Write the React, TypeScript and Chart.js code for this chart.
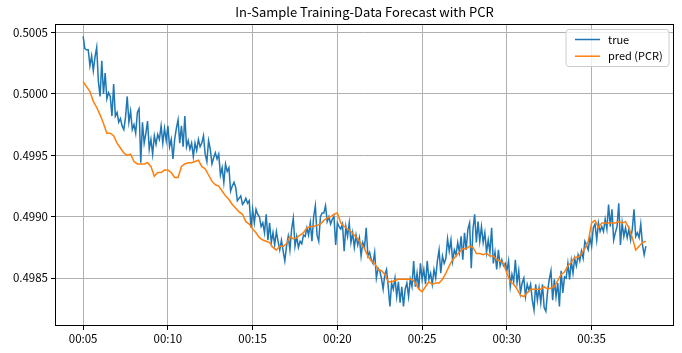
import { useEffect, useRef } from "react";
import { Chart, registerables } from "chart.js";

Chart.register(...registerables);

// ---- data ----
const titleText = "In-Sample Training-Data Forecast with PCR";
const seriesLabels = ["true", "pred (PCR)"];
const startMinute = 5; // 00:05 is the first sample
const trueStepMinutes = 0.1; // 6 s between "true" samples
const predStepMinutes = 0.2; // 12 s between "pred" samples
const xTickMinutes = [0, 5, 10, 15, 20, 25, 30];
const yTickValues = [0.4985, 0.499, 0.4995, 0.5, 0.5005];

const trueValues = [
  0.50047, 0.50037, 0.50036, 0.50036, 0.50023, 0.50031, 0.50019, 0.5003, 0.50038, 0.5001,
  0.49998, 0.50027, 0.5, 0.50017, 0.49996, 0.50001, 0.49998, 0.49982, 0.50008, 0.49982,
  0.49985, 0.49977, 0.4998, 0.49974, 0.49971, 0.49981, 0.49998, 0.49977, 0.49986, 0.49971,
  0.49975, 0.49968, 0.49985, 0.49988, 0.49944, 0.49977, 0.4996, 0.49968, 0.49978, 0.49955,
  0.49963, 0.49951, 0.49966, 0.49959, 0.49967, 0.49963, 0.49974, 0.4996, 0.49972, 0.49962,
  0.49974, 0.49957, 0.49963, 0.49947, 0.49963, 0.49972, 0.49979, 0.4996, 0.49974, 0.49957,
  0.49982, 0.49957, 0.49962, 0.49955, 0.4996, 0.49949, 0.4996, 0.49954, 0.49963, 0.49957,
  0.4996, 0.49966, 0.49951, 0.49945, 0.49962, 0.49955, 0.49943, 0.49948, 0.49952, 0.49947,
  0.49951, 0.49934, 0.4994, 0.49928, 0.49943, 0.49937, 0.4994, 0.49921, 0.49925, 0.49928,
  0.49924, 0.49913, 0.49915, 0.49917, 0.4991, 0.49912, 0.49915, 0.49911, 0.49913, 0.49891,
  0.49906, 0.49895, 0.49906, 0.49902, 0.499, 0.49892, 0.49895, 0.49887, 0.49902, 0.49881,
  0.49895, 0.49879, 0.49887, 0.49877, 0.49888, 0.4988, 0.49873, 0.49881, 0.49872, 0.49864,
  0.49876, 0.49884, 0.49873, 0.4989, 0.49899, 0.49876, 0.49884, 0.49875, 0.4988, 0.49878,
  0.49885, 0.49884, 0.49891, 0.49885, 0.49895, 0.4988, 0.499, 0.49909, 0.49885, 0.4988,
  0.499, 0.49903, 0.49903, 0.49909, 0.49896, 0.499, 0.49894, 0.49898, 0.499, 0.49877,
  0.49895, 0.49892, 0.4989, 0.49894, 0.49872, 0.49892, 0.49884, 0.49895, 0.49879, 0.49887,
  0.49875, 0.49885, 0.49877, 0.49883, 0.49868, 0.49879, 0.49875, 0.49891, 0.49868, 0.49871,
  0.49865, 0.49862, 0.49871, 0.4985, 0.49858, 0.49856, 0.4985, 0.49841, 0.49853, 0.49857,
  0.49843, 0.49827, 0.49846, 0.49841, 0.4985, 0.49835, 0.49847, 0.4983, 0.49843, 0.49827,
  0.49841, 0.49846, 0.49835, 0.49849, 0.49843, 0.49864, 0.49843, 0.49854, 0.49841, 0.49862,
  0.49849, 0.49857, 0.49845, 0.49864, 0.49849, 0.49854, 0.49845, 0.49857, 0.4985, 0.49864,
  0.49873, 0.49854, 0.49868, 0.49862, 0.49866, 0.49882, 0.49872, 0.49881, 0.49864, 0.49873,
  0.49869, 0.49879, 0.49871, 0.49884, 0.49865, 0.49887, 0.49873, 0.4989, 0.49895, 0.49858,
  0.4989, 0.49902, 0.49879, 0.49896, 0.4988, 0.49892, 0.49879, 0.49887, 0.49871, 0.49881,
  0.49871, 0.49891, 0.49862, 0.49871, 0.49857, 0.49873, 0.4986, 0.49865, 0.4986, 0.49862,
  0.49856, 0.49864, 0.49843, 0.49853, 0.49847, 0.49865, 0.49846, 0.49856, 0.49838, 0.49846,
  0.4985, 0.49835, 0.49845, 0.4984, 0.49845, 0.49832, 0.49824, 0.49845, 0.49832, 0.49842,
  0.4983, 0.49845, 0.49826, 0.49823, 0.49839, 0.49849, 0.49856, 0.49832, 0.49849, 0.49835,
  0.49846, 0.49827, 0.49856, 0.49838, 0.49851, 0.4985, 0.49862, 0.49849, 0.49864, 0.49854,
  0.49866, 0.4986, 0.49869, 0.49864, 0.49872, 0.49866, 0.4988, 0.49877, 0.49873, 0.49883,
  0.49876, 0.49891, 0.49894, 0.49881, 0.49895, 0.49888, 0.49892, 0.49888, 0.49898, 0.4989,
  0.4991, 0.49892, 0.49906, 0.49881, 0.49887, 0.49892, 0.49911, 0.49877, 0.49895, 0.49884,
  0.49891, 0.49883, 0.4989, 0.49881, 0.4989, 0.49906, 0.49884, 0.49887, 0.49883, 0.49894,
  0.49877, 0.49869, 0.49876,
];

const predValues = [
  0.5001, 0.50006, 0.50002, 0.49994, 0.49989, 0.49983, 0.49976, 0.49968, 0.49968, 0.49966,
  0.4996, 0.49956, 0.49952, 0.4995, 0.49951, 0.49945, 0.49943, 0.49943, 0.49943, 0.49944,
  0.49941, 0.49933, 0.49936, 0.49936, 0.49938, 0.49938, 0.49936, 0.49932, 0.49932, 0.49941,
  0.49943, 0.49944, 0.49944, 0.49945, 0.49946, 0.49941, 0.49939, 0.49934, 0.49929, 0.49926,
  0.49925, 0.49921, 0.49917, 0.49914, 0.4991, 0.49907, 0.49904, 0.49902, 0.49896, 0.49894,
  0.4989, 0.49887, 0.49883, 0.49881, 0.4988, 0.49879, 0.49875, 0.49873, 0.49876, 0.49876,
  0.49878, 0.49884, 0.49882, 0.49883, 0.49885, 0.49887, 0.49891, 0.49892, 0.49892, 0.49893,
  0.49894, 0.49897, 0.49899, 0.499, 0.49902, 0.49903, 0.49895, 0.49892, 0.4989, 0.49888,
  0.49885, 0.49882, 0.49878, 0.49874, 0.49868, 0.49864, 0.49862, 0.49857, 0.49856, 0.49853,
  0.49847, 0.49847, 0.49848, 0.49849, 0.49849, 0.49849, 0.49849, 0.49849, 0.49846, 0.49841,
  0.49839, 0.49843, 0.49847, 0.49845, 0.49846, 0.49846, 0.49849, 0.49854, 0.4986, 0.49865,
  0.49868, 0.49871, 0.49874, 0.49874, 0.49876, 0.49875, 0.4987, 0.4987, 0.49869, 0.4987,
  0.49868, 0.49868, 0.49865, 0.49864, 0.49862, 0.49854, 0.49847, 0.49845, 0.49841, 0.49836,
  0.49835, 0.49838, 0.49841, 0.49841, 0.49841, 0.49841, 0.49843, 0.49841, 0.49842, 0.49843,
  0.49848, 0.49853, 0.49855, 0.4986, 0.49863, 0.49867, 0.49867, 0.4987, 0.49874, 0.4988,
  0.49895, 0.49897, 0.49891, 0.49895, 0.49895, 0.49895, 0.49895, 0.49895, 0.49896, 0.49895,
  0.49896, 0.49891, 0.49883, 0.49873, 0.49876, 0.49879, 0.4988,
];

const FONT = "'Noto Sans CJK JP', 'Noto Sans', 'DejaVu Sans', sans-serif";
const COLORS = ["#1f77b4", "#ff7f0e"];
const TICK_FONT_SIZE = 11.5;

const pad2 = (n: number) => String(n).padStart(2, "0");

const titlePlugin = {
  id: "mplTitle",
  afterDraw(chart: any) {
    const { ctx, chartArea: a } = chart;
    ctx.save();
    ctx.fillStyle = "#000";
    ctx.font = `13px ${FONT}`;
    ctx.textAlign = "center";
    ctx.textBaseline = "middle";
    ctx.fillText(titleText, (a.left + a.right) / 2, a.top - 12);
    ctx.restore();
  },
};

const framePlugin = {
  id: "mplFrame",
  afterDatasetsDraw(chart: any) {
    const { ctx, chartArea: a } = chart;
    ctx.save();
    ctx.strokeStyle = "#000";
    ctx.lineWidth = 1;
    const l = Math.round(a.left) + 0.5;
    const t = Math.round(a.top) + 0.5;
    const r = Math.round(a.right) - 0.5;
    const b = Math.round(a.bottom) - 0.5;
    ctx.strokeRect(l, t, r - l, b - t);
    ctx.restore();
  },
};

const legendPlugin = {
  id: "mplLegend",
  afterDraw(chart: any) {
    const { ctx, chartArea: a } = chart;
    const x0 = a.right - 108;
    const y0 = a.top + 5.5;
    const w = 103;
    const h = 37;
    ctx.save();
    ctx.beginPath();
    const r = 3;
    ctx.moveTo(x0 + r, y0);
    ctx.lineTo(x0 + w - r, y0);
    ctx.quadraticCurveTo(x0 + w, y0, x0 + w, y0 + r);
    ctx.lineTo(x0 + w, y0 + h - r);
    ctx.quadraticCurveTo(x0 + w, y0 + h, x0 + w - r, y0 + h);
    ctx.lineTo(x0 + r, y0 + h);
    ctx.quadraticCurveTo(x0, y0 + h, x0, y0 + h - r);
    ctx.lineTo(x0, y0 + r);
    ctx.quadraticCurveTo(x0, y0, x0 + r, y0);
    ctx.closePath();
    ctx.fillStyle = "rgba(255,255,255,0.8)";
    ctx.fill();
    ctx.strokeStyle = "#cccccc";
    ctx.lineWidth = 1;
    ctx.stroke();
    chart.data.datasets.forEach((ds: any, k: number) => {
      const cy = y0 + 10 + k * 16.7;
      ctx.beginPath();
      ctx.strokeStyle = ds.borderColor;
      ctx.lineWidth = 1.5;
      ctx.moveTo(x0 + 9, cy);
      ctx.lineTo(x0 + 34, cy);
      ctx.stroke();
      ctx.fillStyle = "#000";
      ctx.font = `11px ${FONT}`;
      ctx.textBaseline = "middle";
      ctx.textAlign = "left";
      ctx.fillText(ds.label, x0 + 42, cy);
    });
    ctx.restore();
  },
};

export default function App() {
  const canvasRef = useRef<HTMLCanvasElement | null>(null);

  useEffect(() => {
    document.body.style.margin = "0";
    const canvas = canvasRef.current;
    if (!canvas) return;

    const trueData = trueValues.map((v, i) => ({ x: i * trueStepMinutes, y: v }));
    const predData = predValues.map((v, i) => ({ x: i * predStepMinutes, y: v }));
    const lastX = Math.max(trueData[trueData.length - 1].x, predData[predData.length - 1].x);
    const xMargin = lastX * 0.05;

    const chart = new Chart(canvas, {
      type: "line",
      data: {
        datasets: [
          {
            label: seriesLabels[0],
            data: trueData,
            borderColor: COLORS[0],
            backgroundColor: COLORS[0],
            borderWidth: 1.5,
            pointRadius: 0,
            tension: 0,
            order: 2,
          },
          {
            label: seriesLabels[1],
            data: predData,
            borderColor: COLORS[1],
            backgroundColor: COLORS[1],
            borderWidth: 1.5,
            pointRadius: 0,
            tension: 0,
            order: 1,
          },
        ],
      },
      options: {
        responsive: false,
        animation: false,
        devicePixelRatio: 1,
        layout: { padding: { left: 0, right: 8, top: 24, bottom: 0 } },
        plugins: {
          legend: { display: false },
          tooltip: { enabled: false },
          title: { display: false },
        },
        scales: {
          x: {
            type: "linear",
            min: -xMargin,
            max: lastX + xMargin,
            afterBuildTicks: (scale: any) => {
              scale.ticks = xTickMinutes.map((v) => ({ value: v }));
            },
            afterFit: (scale: any) => {
              scale.height = 27;
            },
            ticks: {
              color: "#000",
              font: { family: FONT, size: TICK_FONT_SIZE },
              padding: 2,
              maxRotation: 0,
              autoSkip: false,
              callback: (v: any) => `00:${pad2(startMinute + Number(v))}`,
            },
            grid: {
              color: "#b0b0b0",
              lineWidth: 1,
              tickColor: "#000",
              tickLength: 4,
              drawTicks: true,
            },
            border: { display: false },
          },
          y: {
            type: "linear",
            min: 0.49811,
            max: 0.50057,
            afterBuildTicks: (scale: any) => {
              scale.ticks = yTickValues.map((v) => ({ value: v }));
            },
            afterFit: (scale: any) => {
              scale.width = 55;
            },
            ticks: {
              color: "#000",
              font: { family: FONT, size: TICK_FONT_SIZE },
              padding: 3,
              autoSkip: false,
              callback: (v: any) => Number(v).toFixed(4),
            },
            grid: {
              color: "#b0b0b0",
              lineWidth: 1,
              tickColor: "#000",
              tickLength: 4,
              drawTicks: true,
            },
            border: { display: false },
          },
        },
      },
      plugins: [framePlugin, legendPlugin, titlePlugin],
    } as any);

    return () => chart.destroy();
  }, []);

  return (
    <div style={{ width: 682, height: 353, background: "#fff" }}>
      <canvas ref={canvasRef} width={682} height={353} style={{ display: "block" }} />
    </div>
  );
}
